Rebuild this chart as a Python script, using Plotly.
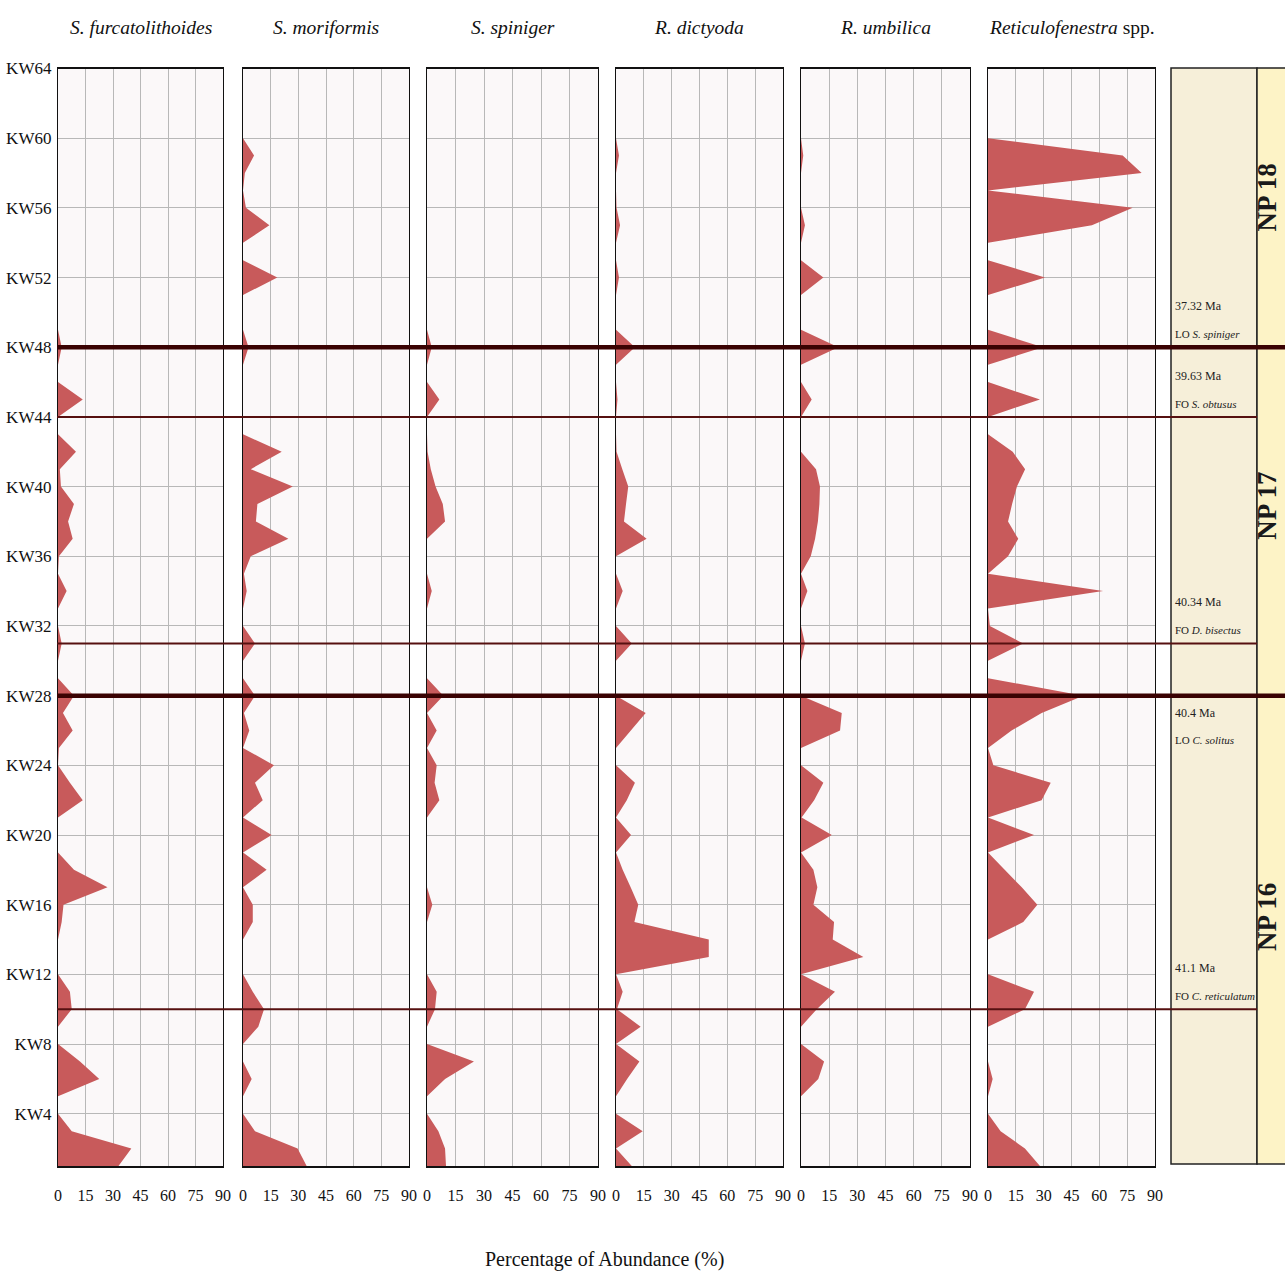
import plotly.graph_objects as go

# ---------------- data ----------------
samples = list(range(1, 65))  # KW1 ... KW64
species_titles = ["<i>S. furcatolithoides</i>", "<i>S. moriformis</i>", "<i>S. spiniger</i>",
                  "<i>R. dictyoda</i>", "<i>R. umbilica</i>", "<i>Reticulofenestra</i> spp."]

s_furcatolithoides = [33, 40, 7.5, 0, 0, 22.5, 12, 0, 0, 7.5,
                      6.5, 0, 0, 0, 2, 3, 27, 8.7, 0, 0,
                      0, 13.5, 6.5, 0, 0.5, 8, 2.7, 8.7, 0, 0,
                      2, 0, 0, 4.7, 0, 0.5, 8, 5.5, 8.7, 1.6,
                      1, 9.8, 0, 0, 13.5, 0, 0, 2, 0, 0,
                      0, 0, 0, 0, 0, 0, 0, 0, 0, 0,
                      0, 0, 0, 0]
s_moriformis = [34.5, 29.6, 6.5, 0, 0, 4.7, 0, 0, 8.3, 11.4,
                5.3, 0, 0, 0, 5.3, 5.3, 0, 12.8, 0, 15.5,
                0, 10.7, 6.5, 16.8, 0, 3.4, 0.5, 6.5, 0, 0,
                6.5, 0, 0, 2, 0.5, 4.2, 24.6, 7, 7.8, 27,
                4.2, 21, 0, 0, 0, 0, 0, 3, 0, 0,
                0, 18.6, 0, 0, 14.3, 1.6, 0, 1, 6, 0,
                0, 0, 0, 0]
s_spiniger = [10, 9.5, 6, 0, 0, 9.5, 24.7, 0, 0, 4.2,
              5.1, 0, 0, 0, 0, 2.8, 0, 0, 0, 0,
              0, 6.5, 4, 5.1, 0, 5.1, 0, 8.6, 0, 0,
              0, 0, 0, 2.5, 0, 0, 0, 9.5, 8.3, 4.5,
              2, 0.3, 0, 0, 6.5, 0, 0, 2.5, 0, 0,
              0, 0, 0, 0, 0, 0, 0, 0, 0, 0,
              0, 0, 0, 0]
r_dictyoda = [8.5, 0, 14.4, 0, 0, 6, 12.6, 0, 13.3, 0.5,
              3.6, 0, 50, 50, 9.9, 12, 7.9, 3.6, 0, 8.1,
              0, 5.8, 10.2, 0, 0, 8, 16, 0, 0, 0,
              8.5, 0, 0, 3.6, 0, 0, 16.5, 4.3, 5.4, 6.6,
              3.4, 0.3, 0, 0, 0.8, 0, 0, 10.2, 0, 0,
              0, 1.6, 0, 0, 2.2, 0.3, 0, 0, 1.6, 0,
              0, 0, 0, 0]
r_umbilica = [0, 0, 0, 0, 0, 9.2, 12.3, 0, 0, 8.4,
              18.1, 0, 33.2, 16.9, 17.6, 6.6, 8.7, 6.6, 0, 16.4,
              0.3, 7, 11.9, 0, 0, 20.8, 21.7, 0, 0, 0,
              2.1, 0, 0, 3.4, 0, 5.2, 7.5, 9, 9.8, 10.1,
              8, 0, 0, 0, 5.7, 0, 0, 19.9, 0, 0,
              0, 11.9, 0, 0, 2.1, 0, 0, 0, 1.2, 0,
              0, 0, 0, 0]
reticulofenestra = [28, 19.9, 6.8, 0, 0, 2.5, 0, 0, 0, 19.9,
                    24.8, 0, 0, 0, 19, 26.6, 18.2, 9, 0, 24.8,
                    0, 28.9, 33.8, 2.9, 0, 12.7, 28.9, 51.4, 0, 0,
                    18.9, 1, 0, 62, 0, 10.8, 16.3, 10.8, 13, 15.6,
                    20, 13.3, 0, 0, 28, 0, 0, 29.6, 0, 0,
                    0, 30.7, 0, 0, 56, 78, 0, 82.8, 72.6, 0,
                    0, 0, 0, 0]
series = [s_furcatolithoides, s_moriformis, s_spiniger, r_dictyoda, r_umbilica, reticulofenestra]

x_ticks = [0, 15, 30, 45, 60, 75, 90]
y_ticks = list(range(4, 65, 4))
y_ticktext = ["KW%d" % v for v in y_ticks]

zone_boundaries = [48, 28]           # NP18/NP17, NP17/NP16
event_boundaries = [44, 31, 10]
zone_names = ["NP 18", "NP 17", "NP 16"]
zone_label_levels = [56.6, 38.9, 15.3]
event_levels = [48, 44, 31, 28, 10]
event_ages = ["37.32 Ma", "39.63 Ma", "40.34 Ma", "40.4 Ma", "41.1 Ma"]
event_texts = ["LO <i>S. spiniger</i>", "FO <i>S. obtusus</i>", "FO <i>D. bisectus</i>",
               "LO <i>C. solitus</i>", "FO <i>C. reticulatum</i>"]
event_below = [False, False, False, True, False]

# ---------------- layout helpers ----------------
W, H = 1285, 1277
def px(x):
    return x / W
def py(y):
    return 1 - y / H

FONT = "Liberation Serif, Times New Roman, serif"
FILL = "#c85a5b"
panel_px = [(58, 223), (243, 409), (427, 598), (616, 783), (801, 970), (988, 1155)]
y_dom = [py(1166), py(68.5)]

fig = go.Figure()
layout = dict(
    width=W, height=H, margin=dict(l=0, r=0, t=0, b=0), autosize=False,
    paper_bgcolor="white", plot_bgcolor="#fbf8f9", showlegend=False,
    font=dict(family=FONT, color="#1a1a1a"),
)

for i, (vals, (x0, x1)) in enumerate(zip(series, panel_px)):
    n = "" if i == 0 else str(i + 1)
    fig.add_trace(go.Scatter(x=vals, y=samples, mode="none", fill="tozerox",
                             fillcolor=FILL, xaxis="x" + n, yaxis="y" + n,
                             hoverinfo="x+y"))
    layout["xaxis" + n] = dict(
        domain=[px(x0), px(x1)], range=[0, 90], anchor="y" + n,
        tickvals=x_ticks, showgrid=True, gridcolor="#b8b8b8", gridwidth=1,
        zeroline=False, showline=True, mirror=True, linecolor="#111", linewidth=2,
        ticks="", tickfont=dict(size=16, family=FONT, color="#111"),
        ticklabelstandoff=14, automargin=False, fixedrange=True,
    )
    layout["yaxis" + n] = dict(
        domain=y_dom, range=[1, 64], anchor="x" + n,
        tickvals=y_ticks, ticktext=y_ticktext, showticklabels=(i == 0),
        showgrid=True, gridcolor="#b8b8b8", gridwidth=1, zeroline=False,
        showline=True, mirror=True, linecolor="#111", linewidth=1.3,
        ticks="", tickfont=dict(size=17, family=FONT, color="#111"),
        ticklabelstandoff=2, automargin=False, fixedrange=True,
    )

fig.update_layout(**layout)

shapes = []
# stratigraphic side column
shapes.append(dict(type="rect", xref="paper", yref="paper", x0=px(1171), x1=px(1257),
                   y0=py(1164), y1=py(68), fillcolor="#f6efd9",
                   line=dict(color="#222", width=1.5), layer="below"))
shapes.append(dict(type="rect", xref="paper", yref="paper", x0=px(1257), x1=px(1300),
                   y0=py(1164), y1=py(68), fillcolor="#fdf3c6",
                   line=dict(color="#222", width=1.5), layer="below"))
# boundary lines
for lv in zone_boundaries:
    shapes.append(dict(type="line", xref="paper", yref="y", x0=px(57), x1=px(1290),
                       y0=lv, y1=lv, line=dict(color="#3a0202", width=4.5), layer="above"))
for lv in event_boundaries:
    shapes.append(dict(type="line", xref="paper", yref="y", x0=px(57), x1=px(1257),
                       y0=lv, y1=lv, line=dict(color="#561010", width=2), layer="above"))
fig.update_layout(shapes=shapes)

ann = []
for t, (x0, x1) in zip(species_titles, panel_px):
    ann.append(dict(text=t, x=px((x0 + x1) / 2), y=py(28), xref="paper", yref="paper",
                    showarrow=False, xanchor="center", yanchor="middle",
                    font=dict(size=19.5, family=FONT, color="#111")))
ann.append(dict(text="Percentage of Abundance (%)", x=px(604), y=py(1259), xref="paper",
                yref="paper", showarrow=False, xanchor="center", yanchor="middle",
                font=dict(size=20, family=FONT, color="#111")))
for lv, age, txt, below in zip(event_levels, event_ages, event_texts, event_below):
    s1, s2 = (-17, -44) if below else (41, 13)
    ann.append(dict(text=age, x=px(1173), y=lv, xref="paper", yref="y", yshift=s1,
                    showarrow=False, xanchor="left", yanchor="middle",
                    font=dict(size=12, family=FONT, color="#222")))
    ann.append(dict(text=txt, x=px(1173), y=lv, xref="paper", yref="y", yshift=s2,
                    showarrow=False, xanchor="left", yanchor="middle",
                    font=dict(size=11, family=FONT, color="#222")))
for name, lv in zip(zone_names, zone_label_levels):
    ann.append(dict(text="<b>%s</b>" % name, x=px(1284), y=lv, xref="paper", yref="y",
                    showarrow=False, xanchor="right", yanchor="middle", textangle=-90,
                    font=dict(size=27, family=FONT, color="#1a1a1a")))
fig.update_layout(annotations=ann)

fig.write_html("out.html", config={"displayModeBar": False},
               post_script="document.body.style.margin='0';document.body.style.overflow='hidden';")
